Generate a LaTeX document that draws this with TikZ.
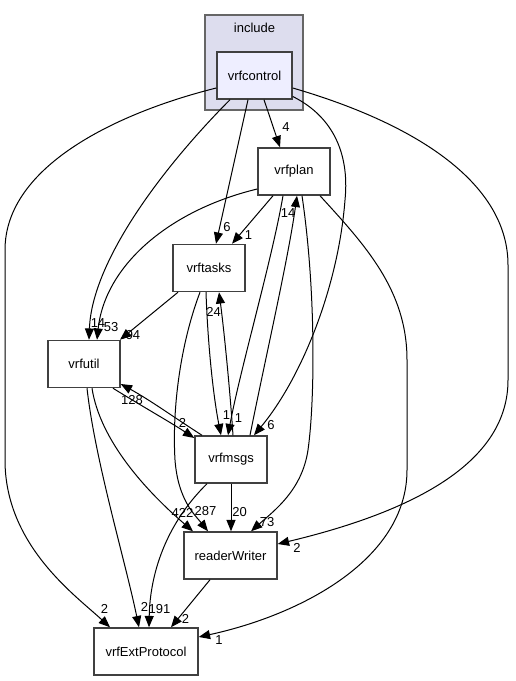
\documentclass[tikz,border=0pt]{standalone}
\usepackage{fontspec}
\setmainfont{Liberation Sans}
\usepackage{xcolor}
\usepackage{tikz}
\usetikzlibrary{arrows.meta,shapes,calc}
\definecolor{clusterfill}{HTML}{DDDDEE}
\definecolor{dirfill}{HTML}{EEEEFF}
\definecolor{boxline}{HTML}{404040}

\begin{document}
\begin{tikzpicture}[x=0.75pt,y=-0.75pt]
    \tikzstyle{every node}=[font=\fontsize{9.75}{11}\selectfont];
    \tikzstyle{dir}=[draw=boxline, line width=1.1pt, fill=white, minimum width=54pt, minimum height=35.25pt, inner sep=0pt];
    \tikzstyle{dep}=[line width=0.75pt, -{Triangle[length=8.5pt,width=6.75pt]}];
    \tikzstyle{lbl}=[inner sep=0pt];
    \useasboundingbox (0,0) rectangle (515,681);
    % the include folder
    \path[draw=boxline!80, fill=clusterfill, line width=0.9pt] (205,15) rectangle (303,110);
    \node[lbl] (inc) at (254.5,27.5) {include};
    \node[dir, fill=dirfill, minimum width=56.25pt] (vrfcontrol) at (254.5,75.5) {vrfcontrol};
    % the other folders
    \node[dir] (vrfplan) at (294,171.5) {vrfplan};
    \node[dir] (vrftasks) at (209,268) {vrftasks};
    \node[dir] (vrfutil) at (84,364) {vrfutil};
    \node[dir] (vrfmsgs) at (231,459.5) {vrfmsgs};
    \node[dir, minimum width=69.75pt] (readerWriter) at (230.5,555.5) {readerWriter};
    \node[dir, minimum width=78pt] (vrfExtProtocol) at (146,651.5) {vrfExtProtocol};
    % from vrfcontrol
    \path[draw] [dep] ($(vrfcontrol.south)+(9.5,0)$) -- ($(vrfplan.north)+(-14,0)$) node[lbl] at (286,127) {4};
    \path[draw] [dep] ($(vrfcontrol.south)+(-6.5,0)$) -- ($(vrftasks.north)+(7,0)$) node[lbl] at (227,227) {6};
    \path[draw] [dep] ($(vrfcontrol.south)+(-24.5,0)$) .. controls (165,165) and (92,260) .. ($(vrfutil.north)+(5,0)$) node[lbl] at (98,323) {14};
    \path[draw] [dep] ($(vrfcontrol.west)+(0,12.5)$) .. controls (120,112) and (5,165) .. (5,250) -- (5,460) .. controls (5,545) and (75,595) .. ($(vrfExtProtocol.north)+(-36,0)$) node[lbl] at (104.5,609) {2};
    \path[draw] [dep] ($(vrfcontrol.east)+(0,12.5)$) .. controls (420,125) and (508,185) .. (508,265) -- (508,380) .. controls (508,460) and (420,510) .. ($(readerWriter.east)+(0,-11.5)$) node[lbl] at (297,548) {2};
    \path[draw] [dep] ($(vrfcontrol.east)+(0,21)$) .. controls (330,115) and (350,150) .. (345,200) .. controls (338,290) and (300,380) .. ($(vrfmsgs.north)+(23,0)$) node[lbl] at (271,425) {6};
    % from vrfplan
    \path[draw] [dep] ($(vrfplan.south)+(-21,0)$) -- ($(vrftasks.north)+(23,0)$) node[lbl] at (248.5,235.5) {1};
    \path[draw] [dep] ($(vrfplan.west)+(0,17.5)$) .. controls (170,210) and (105,265) .. ($(vrfutil.north)+(13,0)$) node[lbl] at (111,327) {53};
    \path[draw] [dep] ($(vrfplan.south)+(-11,0)$) .. controls (272,260) and (240,370) .. ($(vrfmsgs.north)+(-3,0)$) node[lbl] at (238.5,418.5) {1};
    \path[draw] [dep] ($(vrfplan.south)+(8,0)$) .. controls (316,290) and (315,400) .. (308,450) .. controls (302,490) and (275,510) .. ($(readerWriter.north)+(20.5,0)$) node[lbl] at (267,522) {73};
    \path[draw] [dep] ($(vrfplan.south)+(26,0)$) .. controls (365,245) and (407,290) .. (407,360) -- (407,470) .. controls (407,560) and (300,615) .. ($(vrfExtProtocol.east)+(0,-14.5)$) node[lbl] at (219,640.5) {1};
    % from vrftasks
    \path[draw] [dep] ($(vrftasks.south)+(-31,0)$) -- ($(vrfutil.north)+(36,0)$) node[lbl] at (133,335) {94};
    \path[draw] [dep] ($(vrftasks.south)+(-3,0)$) .. controls (208,350) and (214,400) .. ($(vrfmsgs.north)+(-10,0)$) node[lbl] at (226.5,415.5) {1};
    \path[draw] [dep] ($(vrftasks.south)+(-9,0)$) .. controls (180,345) and (172,410) .. (175,460) .. controls (178,500) and (195,515) .. ($(readerWriter.north)+(-22.5,0)$) node[lbl] at (205.5,511) {287};
    % from vrfmsgs
    \path[draw] [dep] ($(vrfmsgs.north)+(2,0)$) .. controls (230,390) and (224,330) .. ($(vrftasks.south)+(10,0)$) node[lbl] at (213.5,311.5) {24};
    \path[draw] [dep] ($(vrfmsgs.north)+(19,0)$) .. controls (265,360) and (288,260) .. ($(vrfplan.south)+(3,0)$) node[lbl] at (288,213) {14};
    \path[draw] [dep] ($(vrfmsgs.north)+(-29,0)$) .. controls (175,418) and (150,400) .. ($(vrfutil.east)+(0,20)$) node[lbl] at (132,400) {128};
    \path[draw] [dep] (vrfmsgs.south) -- ($(readerWriter.north)+(0.5,0)$) node[lbl] at (239.5,512.5) {20};
    \path[draw] [dep] ($(vrfmsgs.south)+(-24,0)$) .. controls (165,525) and (150,575) .. ($(vrfExtProtocol.north)+(3,0)$) node[lbl] at (159.5,609.5) {191};
    % from vrfutil
    \path[draw] [dep] ($(vrfutil.south)+(29,0)$) .. controls (140,405) and (170,422) .. ($(vrfmsgs.west)+(0,-21.5)$) node[lbl] at (182.5,422.5) {2};
    \path[draw] [dep] ($(vrfutil.south)+(8,0)$) .. controls (100,440) and (145,490) .. ($(readerWriter.north)+(-37.5,0)$) node[lbl] at (182.5,512.5) {422};
    \path[draw] [dep] ($(vrfutil.south)+(3,0)$) .. controls (95,460) and (125,560) .. ($(vrfExtProtocol.north)+(-7,0)$) node[lbl] at (144.5,607) {2};
    % from readerWriter
    \path[draw] [dep] ($(readerWriter.south)+(-20.5,0)$) -- ($(vrfExtProtocol.north)+(25,0)$) node[lbl] at (185.5,618.5) {2};
\end{tikzpicture}
\end{document}
